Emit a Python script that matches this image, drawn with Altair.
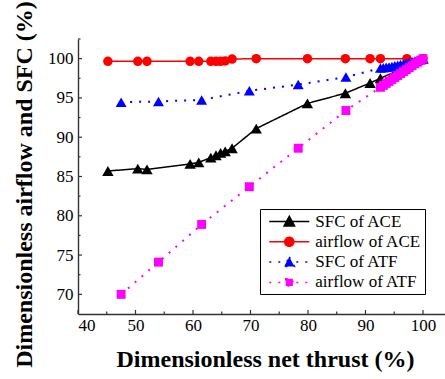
import altair as alt
import pandas as pd

# ---------------- data ----------------
series_names = ["SFC of ACE", "airflow of ACE", "SFC of ATF", "airflow of ATF"]
series_colors = ["#000000", "#ff0000", "#0000ff", "#ff00ff"]

ace_thrust = [45.2, 50.4, 52.0, 59.5, 61.0, 63.1, 64.0, 64.8, 65.6, 66.8,
              71.0, 79.9, 86.5, 90.8, 92.6, 97.2, 100.0]
ace_sfc = [85.7, 86.0, 85.9, 86.6, 86.8, 87.4, 87.7, 88.0, 88.2, 88.6,
           91.1, 94.3, 95.6, 96.9, 97.5, 99.0, 100.0]
ace_airflow = [99.66, 99.66, 99.66, 99.66, 99.66, 99.66, 99.66, 99.66, 99.7, 99.95,
               100.0, 100.0, 100.0, 100.0, 100.0, 100.0, 100.0]

atf_thrust = [47.5, 54.0, 61.5, 69.8, 78.3, 86.6, 92.6, 93.1, 93.6, 94.1, 94.6,
              95.1, 95.6, 96.1, 96.6, 97.1, 97.6, 98.1, 98.6, 99.1, 99.6, 100.0]
atf_sfc = [94.45, 94.55, 94.75, 95.9, 96.7, 97.65, 98.8, 98.85, 98.9, 98.95, 99.0,
           99.1, 99.15, 99.25, 99.3, 99.4, 99.5, 99.6, 99.7, 99.8, 99.9, 100.0]
atf_airflow = [70.0, 74.1, 78.9, 83.7, 88.6, 93.4, 96.35, 96.6, 96.85, 97.1, 97.35,
               97.6, 97.85, 98.1, 98.35, 98.6, 98.85, 99.1, 99.35, 99.55, 99.8, 100.0]

x_major = [40, 50, 60, 70, 80, 90, 100]
x_minor = [45, 55, 65, 75, 85, 95]
y_major = [70, 75, 80, 85, 90, 95, 100]
y_minor = [72.5, 77.5, 82.5, 87.5, 92.5, 97.5, 102.5]

x_title = "Dimensionless net thrust (%)"
y_title = "Dimensionless airflow and SFC (%)"

# ---------------- tables ----------------
frames = []
for name, xs_, ys_ in [(series_names[0], ace_thrust, ace_sfc),
                       (series_names[1], ace_thrust, ace_airflow),
                       (series_names[2], atf_thrust, atf_sfc),
                       (series_names[3], atf_thrust, atf_airflow)]:
    frames.append(pd.DataFrame({"series": name, "thrust": xs_, "value": ys_}))
df = pd.concat(frames, ignore_index=True)

W, H = 367, 275
FONT = "Liberation Serif"

xs = alt.Scale(domain=[40, 103.83], nice=False, zero=False)
ys = alt.Scale(domain=[67.5, 102.5], nice=False, zero=False)

x_axis = alt.Axis(values=x_major, ticks=False, grid=False, format="d",
                  labelFont=FONT, labelFontSize=17, labelColor="#000000",
                  labelPadding=3, domainColor="#333333", domainWidth=1.4,
                  title=x_title, titleFont=FONT, titleFontSize=24,
                  titleFontWeight="bold", titleColor="#000000",
                  titleX=187, titleY=52.5, titleBaseline="alphabetic", titleAlign="center")
y_axis = alt.Axis(values=y_major, ticks=False, grid=False, format="d",
                  labelFont=FONT, labelFontSize=17, labelColor="#000000",
                  labelPadding=5, domainColor="#333333", domainWidth=1.4,
                  title=y_title, titleFont=FONT, titleFontSize=24,
                  titleFontWeight="bold", titleColor="#000000",
                  titleX=-54, titleY=145, titleBaseline="middle", titleAlign="center",
                  titleAngle=270, titleLimit=500)

styles = {
    "SFC of ACE": dict(shape="triangle-up", size=130, dash=[1, 0], width=1.5),
    "airflow of ACE": dict(shape="circle", size=90, dash=[1, 0], width=1.5),
    "SFC of ATF": dict(shape="triangle-up", size=120, dash=[2, 7], width=2),
    "airflow of ATF": dict(shape="square", size=80, dash=[2, 7], width=2),
}

layers = []
for name, color in zip(series_names, series_colors):
    st = styles[name]
    base = alt.Chart(df).transform_filter(alt.datum.series == name)
    line = base.mark_line(color=color, strokeWidth=st["width"],
                          strokeDash=st["dash"]).encode(
        x=alt.X("thrust:Q", scale=xs, axis=x_axis),
        y=alt.Y("value:Q", scale=ys, axis=y_axis),
        order="thrust:Q",
    )
    pts = base.mark_point(shape=st["shape"], size=st["size"], filled=True,
                          color=color, opacity=1).encode(
        x=alt.X("thrust:Q", scale=xs, axis=x_axis),
        y=alt.Y("value:Q", scale=ys, axis=y_axis),
    )
    layers += [line, pts]

# inward ticks
tick_major_x = alt.Chart(pd.DataFrame({"v": x_major})).mark_rule(
    color="#333333", strokeWidth=1.2).encode(
    x=alt.X("v:Q", scale=xs, axis=x_axis), y=alt.value(H), y2=alt.value(H - 4))
tick_minor_x = alt.Chart(pd.DataFrame({"v": x_minor})).mark_rule(
    color="#333333", strokeWidth=1.2).encode(
    x=alt.X("v:Q", scale=xs, axis=x_axis), y=alt.value(H), y2=alt.value(H - 2.5))
tick_major_y = alt.Chart(pd.DataFrame({"v": y_major})).mark_rule(
    color="#333333", strokeWidth=1.2).encode(
    y=alt.Y("v:Q", scale=ys, axis=y_axis), x=alt.value(0), x2=alt.value(4))
tick_minor_y = alt.Chart(pd.DataFrame({"v": y_minor})).mark_rule(
    color="#333333", strokeWidth=1.2).encode(
    y=alt.Y("v:Q", scale=ys, axis=y_axis), x=alt.value(0), x2=alt.value(2.5))

# legend glyphs: line through marker
glyphs = [
    "M-2.5,0H2.5M0,-0.65L0.65,0.55H-0.65Z",
    "M-2.5,0H2.5M-0.57,0A0.57,0.57 0 1,0 0.57,0A0.57,0.57 0 1,0 -0.57,0Z",
    "M-2.5,0H2.5M0,-0.65L0.65,0.55H-0.65Z",
    "M-2.5,0H2.5M-0.45,-0.45H0.45V0.45H-0.45Z",
]
dashes = [[1, 0], [1, 0], [2, 7], [2, 7]]

leg = alt.Legend(title=None, orient="none", legendX=182, legendY=170,
                 strokeColor="#000000", padding=3.5, fillColor="#ffffff",
                 labelFont=FONT, labelFontSize=17, labelColor="#000000",
                 symbolSize=256, symbolStrokeWidth=1.5, symbolOffset=16.8,
                 symbolOpacity=1, symbolFillColor="#000000",
                 labelOffset=17, rowPadding=3.3, labelLimit=300)

legend_layer = alt.Chart(pd.DataFrame({"series": series_names})).mark_point(
    filled=True, opacity=0, size=256).encode(
    fill=alt.Fill("series:N", scale=alt.Scale(domain=series_names, range=series_colors), legend=leg),
    stroke=alt.Stroke("series:N", scale=alt.Scale(domain=series_names, range=series_colors), legend=leg),
    shape=alt.Shape("series:N", scale=alt.Scale(domain=series_names, range=glyphs), legend=leg),
    strokeDash=alt.StrokeDash("series:N", scale=alt.Scale(domain=series_names, range=dashes), legend=leg),
)

chart = alt.layer(
    tick_major_x, tick_minor_x, tick_major_y, tick_minor_y, *layers, legend_layer
).properties(
    width=W, height=H,
    autosize=alt.AutoSizeParams(type="none"),
    padding={"left": 78, "top": 39, "right": 0, "bottom": 65},
    background="#ffffff",
).configure_view(stroke="transparent")

chart.save("out.html", embed_options={"renderer": "svg", "actions": False})
